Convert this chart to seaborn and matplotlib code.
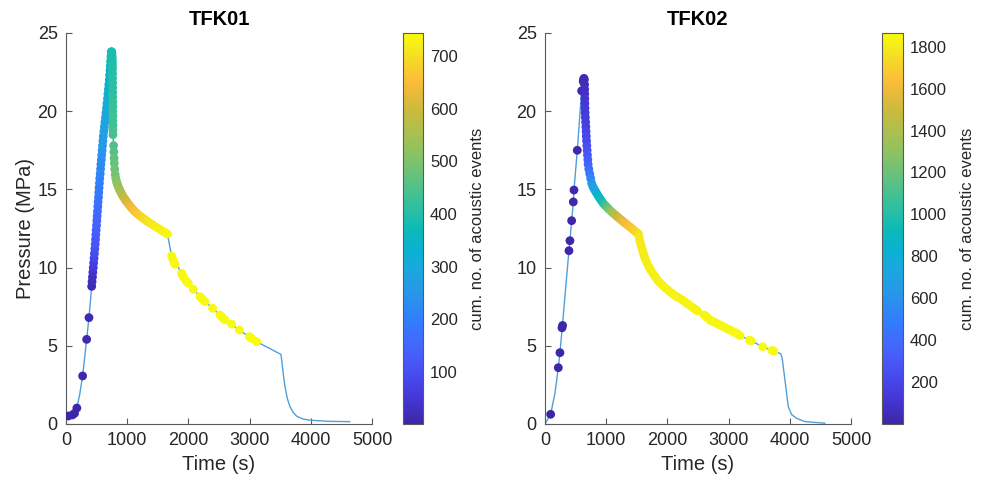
import matplotlib
matplotlib.use("Agg")
import matplotlib.pyplot as plt
import pandas as pd
import seaborn as sns
from matplotlib.colors import LinearSegmentedColormap, Normalize
from matplotlib.cm import ScalarMappable

# ---------------- TFK01 ----------------
tfk01_line_time = [10, 38, 105, 140, 178, 225, 272, 338, 376, 420,
                   474, 550, 610, 665, 708, 740, 755, 768, 778, 790,
                   838, 937, 1046, 1209, 1373, 1536, 1656, 1727, 1890, 2080,
                   2244, 2396, 2598, 2832, 3007, 3116, 3513, 3530, 3550, 3578,
                   3615, 3660, 3710, 3770, 3870, 3987, 4300, 4640]
tfk01_line_pressure = [0.43, 0.51, 0.58, 0.68, 1.02, 1.90, 3.07, 5.41, 6.80, 8.80,
                       11.30, 15.60, 18.40, 20.30, 22.00, 23.80, 23.80, 18.50, 17.80, 16.67,
                       15.35, 14.50, 13.93, 13.30, 12.85, 12.40, 12.15, 10.74, 9.63, 8.61,
                       7.93, 7.40, 6.65, 6.01, 5.54, 5.26, 4.45, 3.90, 3.20, 2.39,
                       1.65, 1.10, 0.75, 0.50, 0.32, 0.24, 0.17, 0.15]

# acoustic events: time, pressure at the event, cumulative event count
tfk01_event_time = [
    38, 105, 140, 178, 272, 338, 376,
    420, 426, 433, 439, 446, 452, 459, 465, 472,
    478, 483, 488, 493, 499, 504, 509, 515, 520, 525, 531, 536, 541, 547,
    552, 559, 565, 571, 578, 584, 591, 597, 604,
    610, 619, 627, 636, 645, 653, 662,
    670, 678, 685, 693, 700, 708,
    713, 719, 724, 729, 735, 740,
    748, 752, 755, 757, 758, 759, 760, 761, 761, 762, 763, 763, 764, 764,
    765, 765, 766, 766, 767, 767, 768,
    778, 782, 786, 790, 796, 804, 814, 826, 838, 852,
    868, 886, 905, 925, 947, 970, 995, 1020, 1046, 1075,
    1105, 1135, 1170, 1209, 1250, 1290, 1330, 1373, 1420, 1470,
    1520, 1570, 1620, 1656,
    1727, 1745, 1768, 1781, 1890, 1905, 1917, 1945, 1972, 1999,
    2080, 2190, 2215, 2244, 2271, 2396, 2516, 2543, 2570, 2598,
    2707, 2832, 2996, 3034, 3116]
tfk01_event_pressure = [
    0.51, 0.58, 0.68, 1.02, 3.07, 5.41, 6.80,
    8.8, 9.1, 9.4, 9.7, 10.0, 10.3, 10.6, 10.9, 11.2,
    11.5, 11.8, 12.1, 12.4, 12.7, 13.0, 13.3, 13.6, 13.9, 14.2, 14.5, 14.8, 15.1, 15.4,
    15.7, 16.0, 16.3, 16.6, 16.9, 17.2, 17.5, 17.8, 18.1,
    18.4, 18.7, 19.0, 19.3, 19.6, 19.9, 20.2,
    20.5, 20.8, 21.1, 21.4, 21.7, 22.0,
    22.3, 22.6, 22.9, 23.2, 23.5, 23.8,
    23.8, 23.7, 23.5, 23.3, 23.1, 22.9, 22.7, 22.4, 22.1, 21.8, 21.5, 21.2, 20.9, 20.6,
    20.3, 20.0, 19.7, 19.4, 19.1, 18.8, 18.5,
    17.80, 17.40, 17.00, 16.67, 16.30, 15.95, 15.70, 15.50, 15.35, 15.20,
    15.05, 14.90, 14.75, 14.60, 14.47, 14.33, 14.20, 14.07, 13.93, 13.80,
    13.67, 13.55, 13.43, 13.30, 13.18, 13.07, 12.96, 12.85, 12.73, 12.60,
    12.48, 12.35, 12.25, 12.15,
    10.74, 10.55, 10.32, 10.21, 9.63, 9.52, 9.42, 9.25, 9.10, 9.00,
    8.61, 8.14, 8.05, 7.93, 7.82, 7.40, 6.97, 6.86, 6.76, 6.65,
    6.39, 6.01, 5.58, 5.47, 5.26]
tfk01_event_count = [
    1, 2, 3, 5, 7, 10, 13,
    15, 22, 30, 42, 55, 67, 80, 92, 105,
    112, 118, 124, 130, 137, 143, 150, 157, 163, 170, 177, 184, 191, 198,
    206, 213, 219, 226, 232, 238, 245, 251, 258,
    265, 271, 278, 284, 291, 297, 304,
    310, 317, 323, 329, 335, 341,
    348, 355, 362, 369, 376, 384,
    386, 388, 390, 392, 394, 396, 398, 401, 404, 407, 410, 413, 416, 419,
    422, 425, 428, 431, 434, 437, 440,
    450, 458, 466, 474, 482, 490, 498, 507, 516, 525,
    535, 546, 558, 570, 582, 594, 606, 618, 630, 641,
    652, 662, 672, 681, 690, 698, 705, 711, 716, 721,
    725, 728, 731, 734,
    736, 736, 737, 737, 738, 738, 738, 739, 739, 739,
    740, 740, 740, 741, 741, 741, 742, 742, 742, 742,
    743, 743, 743, 744, 744]
tfk01_cbar_ticks = [100, 200, 300, 400, 500, 600, 700]

# ---------------- TFK02 ----------------
tfk02_line_time = [0, 93, 163, 218, 245, 283, 337, 392, 408, 436,
                   463, 474, 528, 599, 632, 643, 652, 668, 681, 708,
                   763, 845, 953, 1116, 1279, 1416, 1525, 1547, 1590, 1645,
                   1727, 1835, 1972, 2108, 2244, 2380, 2489, 2600, 2805, 3023,
                   3186, 3366, 3557, 3740, 3850, 3875, 3905, 3940, 3976, 4030,
                   4112, 4250, 4575]
tfk02_line_pressure = [0.00, 0.62, 1.96, 3.60, 4.56, 6.20, 8.64, 11.08, 11.72, 13.00,
                       14.20, 14.96, 17.50, 21.30, 22.10, 22.00, 20.50, 19.00, 17.95, 16.45,
                       15.39, 14.75, 14.10, 13.47, 12.94, 12.51, 12.15, 11.76, 11.13, 10.49,
                       9.85, 9.21, 8.68, 8.25, 7.93, 7.54, 7.24, 6.97, 6.44, 6.01,
                       5.65, 5.32, 4.94, 4.66, 4.50, 4.20, 3.30, 2.20, 1.10, 0.60,
                       0.36, 0.15, 0.05]

tfk02_event_time = [
    93, 218, 245, 278, 288, 392, 408, 436, 463, 474, 528, 599,
    625, 632, 638, 643,
    647, 649, 650, 651, 652, 654, 656, 660, 664, 668, 672, 675, 679, 684,
    689, 694, 700, 705, 716, 731, 747, 763,
    780, 800, 822, 845, 870, 897, 925, 953, 985, 1018, 1050, 1083, 1116,
    1150, 1185, 1220, 1250, 1279, 1313, 1347, 1381, 1416, 1452, 1490, 1525,
    1535, 1547, 1560, 1575, 1590, 1607, 1625, 1645, 1668, 1695, 1727, 1762,
    1798, 1835, 1880, 1925, 1972, 2017, 2062, 2108, 2153, 2198, 2244, 2290,
    2335, 2380, 2420, 2455, 2489,
    2600, 2625, 2650, 2696, 2725, 2760, 2805, 2840, 2880, 2914, 2950, 2990,
    3023, 3060, 3100, 3132, 3160, 3186, 3340, 3366, 3557, 3710, 3740]
tfk02_event_pressure = [
    0.62, 3.60, 4.56, 6.15, 6.30, 11.08, 11.72, 13.00, 14.20, 14.96, 17.50, 21.30,
    21.90, 22.05, 22.10, 22.00,
    21.7, 21.4, 21.1, 20.8, 20.5, 20.2, 19.9, 19.6, 19.3, 19.0, 18.7, 18.4, 18.1, 17.8,
    17.5, 17.2, 16.9, 16.6, 16.3, 16.0, 15.7, 15.39,
    15.20, 15.05, 14.90, 14.75, 14.58, 14.42, 14.26, 14.10, 13.97, 13.84, 13.71, 13.59, 13.47,
    13.36, 13.24, 13.13, 13.03, 12.94, 12.83, 12.72, 12.62, 12.51, 12.39, 12.27, 12.15,
    12.00, 11.76, 11.55, 11.34, 11.13, 10.92, 10.70, 10.49, 10.28, 10.07, 9.85, 9.63,
    9.42, 9.21, 9.03, 8.85, 8.68, 8.54, 8.39, 8.25, 8.14, 8.04, 7.93, 7.80,
    7.67, 7.54, 7.43, 7.33, 7.24,
    6.97, 6.90, 6.82, 6.65, 6.58, 6.52, 6.44, 6.36, 6.28, 6.22, 6.15, 6.07,
    6.01, 5.93, 5.86, 5.80, 5.72, 5.65, 5.36, 5.32, 4.94, 4.70, 4.66]
tfk02_event_count = [
    1, 3, 5, 7, 8, 10, 12, 14, 16, 18, 21, 25,
    30, 34, 38, 42,
    56, 70, 85, 99, 113, 127, 139, 153, 167, 181, 195, 209, 223, 244,
    272, 300, 328, 356, 403, 468, 533, 600,
    653, 695, 738, 780, 838, 892, 946, 1000, 1080, 1160, 1240, 1315, 1390,
    1430, 1471, 1512, 1546, 1580, 1605, 1630, 1655, 1680, 1703, 1727, 1750,
    1790, 1793, 1796, 1799, 1801, 1803, 1805, 1807, 1809, 1811, 1813, 1815,
    1817, 1819, 1820, 1821, 1822, 1823, 1824, 1825, 1826, 1827, 1828, 1829,
    1830, 1831, 1832, 1833, 1834,
    1836, 1837, 1838, 1839, 1840, 1841, 1842, 1843, 1844, 1845, 1846, 1847,
    1848, 1849, 1850, 1851, 1852, 1853, 1855, 1857, 1860, 1863, 1865]
tfk02_cbar_ticks = [200, 400, 600, 800, 1000, 1200, 1400, 1600, 1800]

# parula-like colour ramp
parula = LinearSegmentedColormap.from_list("parula", [
    (0.000, (0.2422, 0.1504, 0.6603)),
    (0.059, (0.2691, 0.2094, 0.8249)),
    (0.098, (0.2788, 0.2598, 0.9035)),
    (0.141, (0.2811, 0.3204, 0.9563)),
    (0.200, (0.2647, 0.4030, 0.9935)),
    (0.255, (0.2006, 0.4803, 0.9906)),
    (0.333, (0.1540, 0.5902, 0.9218)),
    (0.400, (0.1000, 0.6600, 0.8700)),
    (0.450, (0.0300, 0.7000, 0.8100)),
    (0.500, (0.0500, 0.7300, 0.7200)),
    (0.550, (0.1700, 0.7500, 0.6400)),
    (0.600, (0.3000, 0.7600, 0.5500)),
    (0.650, (0.4400, 0.7600, 0.4600)),
    (0.700, (0.5700, 0.7600, 0.3800)),
    (0.750, (0.6800, 0.7500, 0.3100)),
    (0.800, (0.7900, 0.7300, 0.2400)),
    (0.850, (0.9200, 0.7300, 0.2300)),
    (0.880, (0.9900, 0.7400, 0.2200)),
    (0.920, (0.9700, 0.8200, 0.1700)),
    (0.960, (0.9600, 0.9100, 0.1100)),
    (1.000, (0.9763, 0.9831, 0.0538)),
])

LINE_COLOR = "#519fd8"
TEXT = "#262626"
AXIS = "#5a5a5a"

sns.set_style("ticks")
plt.rcParams["font.family"] = ["Liberation Sans", "DejaVu Sans"]

fig = plt.figure(figsize=(9.86, 4.86), dpi=100)
ax_l = fig.add_axes([0.0669, 0.1276, 0.3104, 0.8045])
cax_l = fig.add_axes([0.4087, 0.1276, 0.0203, 0.8045])
ax_r = fig.add_axes([0.5527, 0.1276, 0.3104, 0.8045])
cax_r = fig.add_axes([0.8945, 0.1276, 0.0213, 0.8045])


def draw_panel(ax, cax, title, line_t, line_p, ev_t, ev_p, ev_n, cticks, ylabel):
    norm = Normalize(vmin=min(ev_n), vmax=max(ev_n))
    line_df = pd.DataFrame({"time": line_t, "pressure": line_p})
    ev_df = pd.DataFrame({"time": ev_t, "pressure": ev_p, "count": ev_n})

    sns.lineplot(data=line_df, x="time", y="pressure", sort=False, estimator=None,
                 color=LINE_COLOR, lw=1.0, ax=ax, zorder=2)
    sns.scatterplot(data=ev_df, x="time", y="pressure", hue="count", palette=parula,
                    hue_norm=norm, s=40, linewidth=0, legend=False, ax=ax, zorder=3)

    ax.set_xlim(0, 5000)
    ax.set_ylim(0, 25)
    ax.set_xticks([0, 1000, 2000, 3000, 4000, 5000])
    ax.set_yticks([0, 5, 10, 15, 20, 25])
    sns.despine(ax=ax)
    for side in ("left", "bottom"):
        ax.spines[side].set_color(AXIS)
        ax.spines[side].set_linewidth(0.8)
    ax.tick_params(direction="in", length=4, width=0.8, color=AXIS,
                   labelsize=13, labelcolor=TEXT, pad=6)
    ax.set_xlabel("Time (s)", fontsize=14.5, color=TEXT, labelpad=4)
    if ylabel:
        ax.set_ylabel(ylabel, fontsize=14.5, color=TEXT, labelpad=2)
    else:
        ax.set_ylabel("")
    ax.set_title(title, fontsize=14.5, fontweight="bold", color="black", pad=6)

    cb = fig.colorbar(ScalarMappable(norm=norm, cmap=parula), cax=cax)
    cb.set_ticks(cticks)
    cb.outline.set_edgecolor(AXIS)
    cb.outline.set_linewidth(0.8)
    cax.tick_params(direction="in", length=4, width=0.8, color=AXIS,
                    labelsize=12, labelcolor=TEXT, pad=5)
    cb.set_label("cum. no. of acoustic events", fontsize=12, color=TEXT, labelpad=9)


draw_panel(ax_l, cax_l, "TFK01", tfk01_line_time, tfk01_line_pressure,
           tfk01_event_time, tfk01_event_pressure, tfk01_event_count,
           tfk01_cbar_ticks, "Pressure (MPa)")
draw_panel(ax_r, cax_r, "TFK02", tfk02_line_time, tfk02_line_pressure,
           tfk02_event_time, tfk02_event_pressure, tfk02_event_count,
           tfk02_cbar_ticks, None)

fig.savefig("out.png", dpi=100, facecolor="white")
